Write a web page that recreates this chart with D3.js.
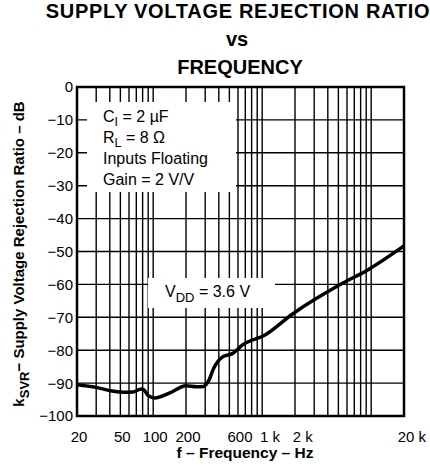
<!DOCTYPE html>
<meta charset="utf-8">
<style>
    body { margin: 0; background: #fff; }
    text { font-family: "Liberation Sans", Arial, Helvetica, sans-serif; fill: #000; }
</style>
<body>
<svg width="430" height="466"></svg>
<script src="https://cdn.jsdelivr.net/npm/d3@7"></script>
<script>
    // values
    var freqHz = [20, 30, 42, 53, 65, 78, 82, 90, 104, 142, 200, 250, 290, 320, 360, 430, 540, 660, 1060, 1900, 5500, 9300, 20000];
    var ksvrDb = [-90.5, -91.3, -92.4, -92.8, -92.7, -91.8, -92.0, -93.8, -94.5, -93, -90.8, -91.1, -91.0, -89.5, -85.4, -82.1, -80.9, -78.4, -75.4, -69, -59.6, -55.6, -48.3];

    var xTickVals = [20, 50, 100, 200, 600, 1000, 2000, 20000];
    var xTickNum = ["20", "50", "100", "200", "600", "1", "2", "20"];
    var xTickUnit = ["", "", "", "", "", " k", " k", " k"];
    var yTickVals = [0, -10, -20, -30, -40, -50, -60, -70, -80, -90, -100];

    var svg = d3.select("svg");
    // plot frame (window.top is taken, so prefix these)
    var pLeft = 77, pRight = 404, pTop = 87, pBottom = 416;

    var x = d3.scaleLog().domain([20, 20000]).range([pLeft, pRight]);
    var y = d3.scaleLinear().domain([-100, 0]).range([pBottom, pTop]);

    // grid: 1..9 per decade, up to 10k
    var vGrid = [];
    [10, 100, 1000].forEach(function(dec) {
        for (var k = 1; k <= 9; k++) {
            var f = dec * k;
            if (f > 20 && f <= 10000) vGrid.push(f);
        }
    });
    vGrid.push(10000);

    var grid = svg.append("g").attr("stroke", "#000").attr("stroke-width", 1.4);
    grid.selectAll(".v").data(vGrid).enter().append("line")
        .attr("x1", function(d) { return x(d); })
        .attr("x2", function(d) { return x(d); })
        .attr("y1", pTop).attr("y2", pBottom);
    grid.selectAll(".h").data(yTickVals.slice(1, -1)).enter().append("line")
        .attr("x1", pLeft).attr("x2", pRight)
        .attr("y1", function(d) { return y(d); })
        .attr("y2", function(d) { return y(d); });

    // white boxes behind the notes
    svg.append("rect").attr("x", 87).attr("y", 102).attr("width", 149).attr("height", 90).attr("fill", "#fff");
    svg.append("rect").attr("x", 148).attr("y", 278).attr("width", 127).attr("height", 30).attr("fill", "#fff");

    var line = d3.line()
        .x(function(d, i) { return x(freqHz[i]); })
        .y(function(d) { return y(d); })
        .curve(d3.curveMonotoneX);

    svg.append("path")
        .datum(ksvrDb)
        .attr("d", line)
        .attr("fill", "none")
        .attr("stroke", "#000")
        .attr("stroke-width", 3.5)
        .attr("stroke-linejoin", "round");

    svg.append("rect")
        .attr("x", pLeft).attr("y", pTop)
        .attr("width", pRight - pLeft).attr("height", pBottom - pTop)
        .attr("fill", "none").attr("stroke", "#000").attr("stroke-width", 2.5);

    // y tick labels
    svg.selectAll(".ylab").data(yTickVals).enter().append("text")
        .attr("x", 73)
        .attr("y", function(d) { return y(d); })
        .attr("dy", "0.36em")
        .attr("text-anchor", "end")
        .attr("font-size", 15)
        .text(function(d) { return d < 0 ? "\u2212" + (-d) : d; });

    // x tick labels, number part centred on the tick
    xTickVals.forEach(function(v, i) {
        var t = svg.append("text")
            .attr("y", 442)
            .attr("font-size", 15)
            .text(xTickNum[i]);
        var w = t.node().getComputedTextLength();
        t.attr("x", x(v) - w / 2 + 2);
        t.text(xTickNum[i] + xTickUnit[i]);
    });

    // notes
    var note = svg.append("g").attr("font-size", 16);
    var n1 = note.append("text").attr("x", 103).attr("y", 122);
    n1.append("tspan").text("C");
    n1.append("tspan").attr("font-size", 12.5).attr("dy", 4).text("I");
    n1.append("tspan").attr("dy", -4).text(" = 2 \u00b5F");
    var n2 = note.append("text").attr("x", 103).attr("y", 143);
    n2.append("tspan").text("R");
    n2.append("tspan").attr("font-size", 12.5).attr("dy", 4).text("L");
    n2.append("tspan").attr("dy", -4).text(" = 8 \u03a9");
    note.append("text").attr("x", 103).attr("y", 164).text("Inputs Floating");
    note.append("text").attr("x", 103).attr("y", 185).text("Gain = 2 V/V");

    var n3 = note.append("text").attr("x", 165).attr("y", 297);
    n3.append("tspan").text("V");
    n3.append("tspan").attr("font-size", 13).attr("dy", 5).text("DD");
    n3.append("tspan").attr("dy", -5).text(" = 3.6 V");

    // titles
    var title = svg.append("g").attr("font-weight", "bold").attr("font-size", 20).attr("text-anchor", "middle");
    title.append("text").attr("x", 238).attr("y", 18).attr("letter-spacing", 0.7).text("SUPPLY VOLTAGE REJECTION RATIO");
    title.append("text").attr("x", 237).attr("y", 46).text("vs");
    title.append("text").attr("x", 240).attr("y", 74).text("FREQUENCY");

    svg.append("text")
        .attr("x", 245).attr("y", 458)
        .attr("text-anchor", "middle")
        .attr("font-weight", "bold").attr("font-size", 15.5)
        .text("f \u2013 Frequency \u2013 Hz");

    var yl = svg.append("text")
        .attr("transform", "translate(24,254) rotate(-90)")
        .attr("text-anchor", "middle")
        .attr("font-weight", "bold").attr("font-size", 15);
    yl.append("tspan").text("k");
    yl.append("tspan").attr("font-size", 13).attr("dy", 5).text("SVR");
    yl.append("tspan").attr("dy", -5).text("\u2212 Supply Voltage Rejection Ratio \u2013 dB");
</script>
</body>
